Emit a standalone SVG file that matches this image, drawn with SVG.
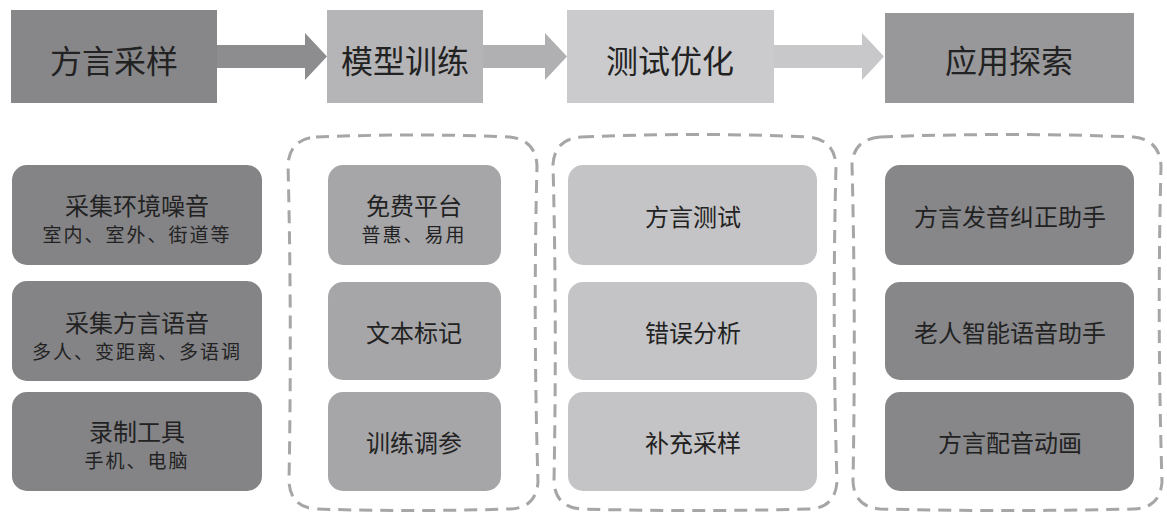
<svg xmlns="http://www.w3.org/2000/svg" width="1167" height="522" viewBox="0 0 1167 522">
<style>
text{font-family:"Noto Sans CJK SC","Noto Sans",sans-serif;fill:#222;text-anchor:middle}
.h{font-size:32px}
.t{font-size:24px}
.s{font-size:19px;letter-spacing:2px}
.dash{fill:none;stroke:#a6a6a6;stroke-width:3;stroke-dasharray:13 8}
</style>
<rect width="1167" height="522" fill="#fff"/>
<g id="connectors">
<polygon points="217,45 305,45 305,33 327,56.5 305,80 305,68 217,68" fill="#8d8d90"/>
<polygon points="483,45 545,45 545,33 567,56.5 545,80 545,68 483,68" fill="#b0b0b2"/>
<polygon points="774,45 862,45 862,33 884,56.5 862,80 862,68 774,68" fill="#c8c8ca"/>
</g>
<g id="stage1"><rect x="11" y="10" width="206" height="93" fill="#87878a"/><text class="h" x="114" y="73">方言采样</text></g>
<g id="stage2"><rect x="327" y="10" width="156" height="93" fill="#b5b5b7"/><text class="h" x="405" y="73">模型训练</text></g>
<g id="stage3"><rect x="567" y="10" width="207" height="93" fill="#cbcbcd"/><text class="h" x="670" y="73">测试优化</text></g>
<g id="stage4"><rect x="885" y="13" width="249" height="90" fill="#98989b"/><text class="h" x="1009" y="73">应用探索</text></g>
<g id="group2"><path class="dash" d="M316 137 Q413 133 510 137 Q536 140 537 166 Q533 320 538 482 Q536 508 510 509 Q413 512 316 509 Q290 507 289 481 Q292 320 288 164 Q290 139 316 137 Z"/></g>
<g id="group3"><path class="dash" d="M581 137 Q695 132 809 137 Q835 140 836 166 Q832 320 837 482 Q835 508 809 509 Q695 512 581 509 Q555 507 554 481 Q557 320 553 164 Q555 139 581 137 Z"/></g>
<g id="group4"><path class="dash" d="M880 137 Q1007 132 1134 137 Q1160 140 1161 166 Q1157 320 1162 482 Q1160 508 1134 509 Q1007 512 880 509 Q854 507 853 481 Q856 320 852 164 Q854 139 880 137 Z"/></g>
<g id="n1a"><rect x="12" y="165" width="250" height="100" rx="15" fill="#848487"/><text class="t" x="137" y="215">采集环境噪音</text><text class="s" x="137" y="242">室内、室外、街道等</text></g>
<g id="n1b"><rect x="12" y="281" width="250" height="100" rx="15" fill="#848487"/><text class="t" x="137" y="332">采集方言语音</text><text class="s" x="137" y="359">多人、变距离、多语调</text></g>
<g id="n1c"><rect x="12" y="392" width="250" height="99" rx="15" fill="#848487"/><text class="t" x="137" y="441">录制工具</text><text class="s" x="137" y="468">手机、电脑</text></g>
<g id="n2a"><rect x="328" y="165" width="173" height="100" rx="15" fill="#a6a6a9"/><text class="t" x="414" y="215">免费平台</text><text class="s" x="414" y="242">普惠、易用</text></g>
<g id="n2b"><rect x="328" y="282" width="173" height="98" rx="15" fill="#a6a6a9"/><text class="t" x="414" y="342">文本标记</text></g>
<g id="n2c"><rect x="328" y="392" width="173" height="99" rx="15" fill="#a6a6a9"/><text class="t" x="414" y="452">训练调参</text></g>
<g id="n3a"><rect x="568" y="165" width="249" height="100" rx="15" fill="#c4c4c6"/><text class="t" x="693" y="226">方言测试</text></g>
<g id="n3b"><rect x="568" y="282" width="249" height="98" rx="15" fill="#c4c4c6"/><text class="t" x="693" y="342">错误分析</text></g>
<g id="n3c"><rect x="568" y="392" width="249" height="99" rx="15" fill="#c4c4c6"/><text class="t" x="693" y="452">补充采样</text></g>
<g id="n4a"><rect x="885" y="165" width="249" height="100" rx="15" fill="#87878a"/><text class="t" x="1010" y="226">方言发音纠正助手</text></g>
<g id="n4b"><rect x="885" y="282" width="249" height="98" rx="15" fill="#87878a"/><text class="t" x="1010" y="342">老人智能语音助手</text></g>
<g id="n4c"><rect x="885" y="392" width="249" height="99" rx="15" fill="#87878a"/><text class="t" x="1010" y="452">方言配音动画</text></g>
</svg>
